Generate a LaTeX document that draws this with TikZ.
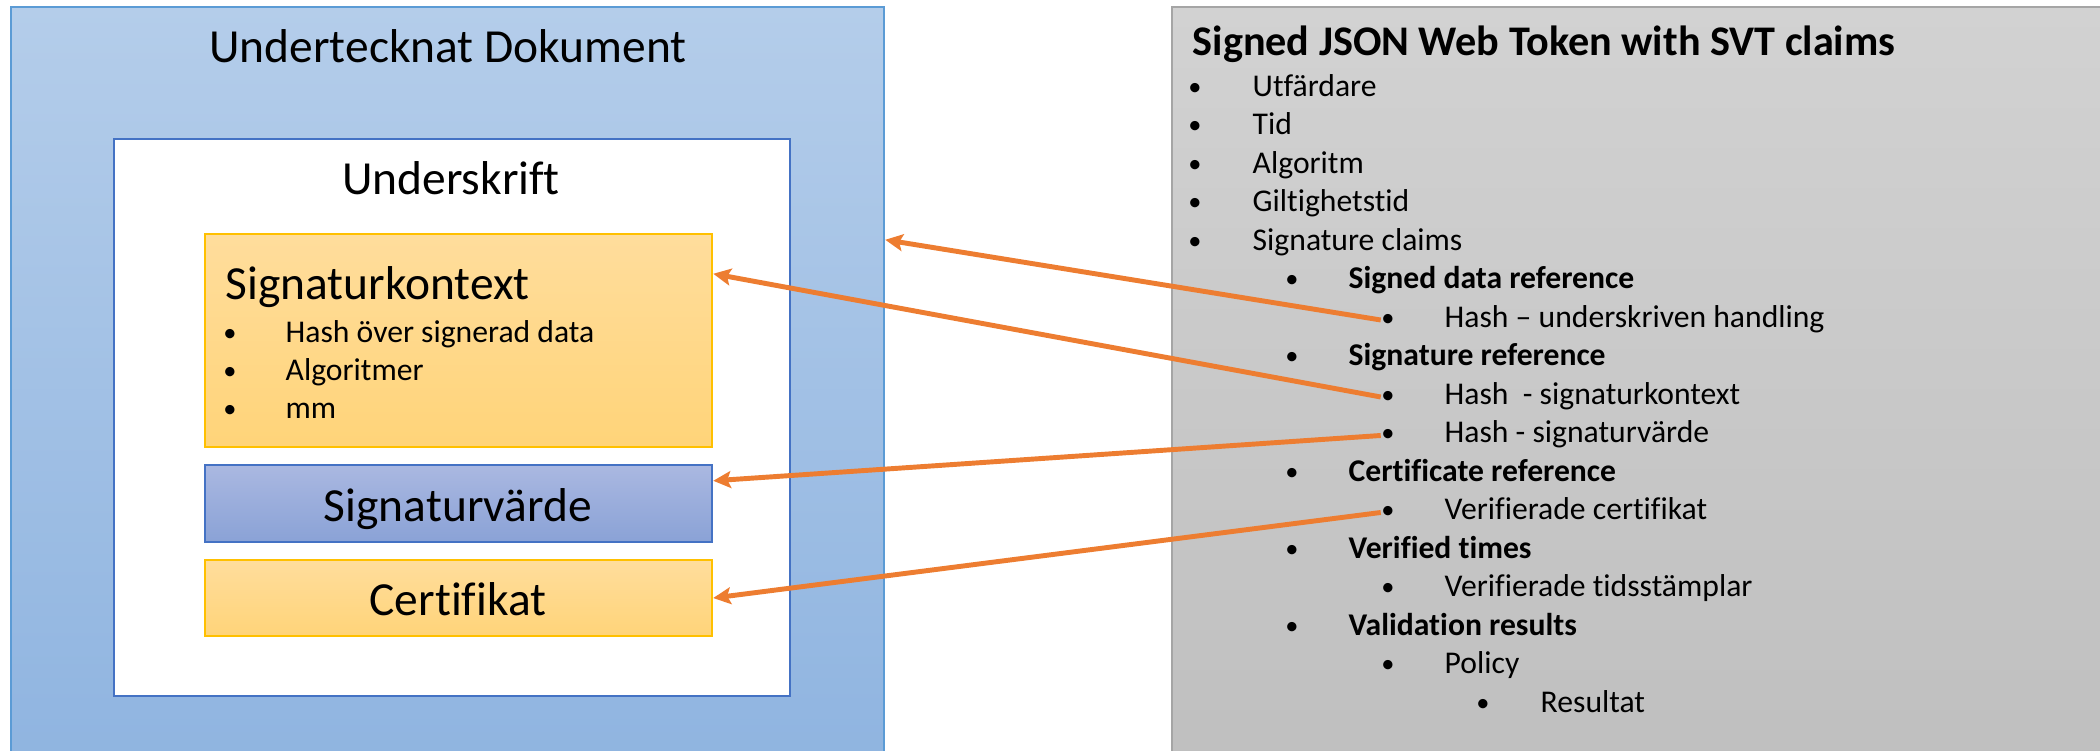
\documentclass[tikz,border=0pt]{standalone}
\usepackage{fontspec}
\setmainfont{Carlito}[Ligatures=NoCommon]
\usetikzlibrary{arrows.meta,calc,fit}
\definecolor{docTop}{HTML}{B4CDEA}
\definecolor{docBottom}{HTML}{8FB4E0}
\definecolor{docFrame}{HTML}{5B9BD5}
\definecolor{sigFrame}{HTML}{4472C4}
\definecolor{goldTop}{HTML}{FFDD9C}
\definecolor{goldBottom}{HTML}{FFD479}
\definecolor{goldFrame}{HTML}{FFC000}
\definecolor{valueTop}{HTML}{AAB8E1}
\definecolor{valueBottom}{HTML}{8AA2D6}
\definecolor{jwtTop}{HTML}{D2D2D2}
\definecolor{jwtBottom}{HTML}{BFBFBF}
\definecolor{jwtFrame}{HTML}{A5A5A5}
\definecolor{refOrange}{HTML}{ED7D31}
\begin{document}
\begin{tikzpicture}
% Signed document next to its JWT with SVT claims
\def\px{0.01cm}
\tikzset{
  panel/.style={inner sep=0pt, line width=0.7pt},
  bigtext/.style={font=\fontsize{13.5}{16}\selectfont, inner sep=0pt},
  itemtext/.style={font=\fontsize{9}{11}\selectfont, inner sep=0pt, anchor=base west},
  itemdot/.style={font=\fontsize{7.5}{9}\selectfont, inner sep=0pt, anchor=base},
  reflink/.style={draw=refOrange, line width=1.4pt, -{Stealth[length=5pt,width=4.8pt,inset=1pt]}}
}
\begin{scope}[x=\px, y=-\px]
  \useasboundingbox (0,0) rectangle (2100,750);
  % Left side: the signed document
  \node[panel, draw=docFrame, top color=docTop, bottom color=docBottom, fit={(11,7) (884,770)}] (doc) {};
  \node[bigtext, anchor=base] (doctitle) at (448,62) {Undertecknat Dokument};
  \node[panel, draw=sigFrame, fill=white, fit={(114,139) (790,696)}] (sig) {};
  \node[bigtext, anchor=base] (sigtitle) at (451,194) {Underskrift};
  % Signature context
  \node[panel, draw=goldFrame, top color=goldTop, bottom color=goldBottom, fit={(205,234) (712,447)}] (kontext) {};
  \node[bigtext, anchor=base west] (kontexttitle) at (225,299) {Signaturkontext};
  \node[itemdot] (kdot1) at (230,341) {•};
  \node[itemtext] (ktext1) at (285,342) {Hash över signerad data};
  \node[itemdot] (kdot2) at (230,379) {•};
  \node[itemtext] (ktext2) at (285,380) {Algoritmer};
  \node[itemdot] (kdot3) at (230,417) {•};
  \node[itemtext] (ktext3) at (285,418) {mm};
  % Signature value
  \node[panel, draw=sigFrame, top color=valueTop, bottom color=valueBottom, fit={(205,465) (712,542)}] (varde) {};
  \node[bigtext, anchor=base] (vardetitle) at (458,521) {Signaturvärde};
  % Certificate
  \node[panel, draw=goldFrame, top color=goldTop, bottom color=goldBottom, fit={(205,560) (712,636)}] (cert) {};
  \node[bigtext, anchor=base] (certtitle) at (458,615) {Certifikat};
  % Right side: the token
  \node[panel, draw=jwtFrame, top color=jwtTop, bottom color=jwtBottom, fit={(1172,7) (2120,770)}] (jwt) {};
  \node[inner sep=0pt, anchor=base west, font=\fontsize{12}{14}\selectfont\bfseries] (jwttitle) at (1192,55) {Signed JSON Web Token with SVT claims};
  \node[itemdot] (jdot1) at (1195,95) {•};
  \node[itemtext] (jtext1) at (1252,96) {Utfärdare};
  \node[itemdot] (jdot2) at (1195,133.5) {•};
  \node[itemtext] (jtext2) at (1252,134.5) {Tid};
  \node[itemdot] (jdot3) at (1195,172) {•};
  \node[itemtext] (jtext3) at (1252,173) {Algoritm};
  \node[itemdot] (jdot4) at (1195,210.5) {•};
  \node[itemtext] (jtext4) at (1252,211.5) {Giltighetstid};
  \node[itemdot] (jdot5) at (1195,249) {•};
  \node[itemtext] (jtext5) at (1252,250) {Signature claims};
  \node[itemdot] (jdot6) at (1292,287.5) {•};
  \node[itemtext] (jtext6) at (1348,288.5) {\bfseries Signed data reference};
  \node[itemdot] (jdot7) at (1388,326) {•};
  \node[itemtext] (jtext7) at (1444,327) {Hash – underskriven handling};
  \node[itemdot] (jdot8) at (1292,364.5) {•};
  \node[itemtext] (jtext8) at (1348,365.5) {\bfseries Signature reference};
  \node[itemdot] (jdot9) at (1388,403) {•};
  \node[itemtext] (jtext9) at (1444,404) {Hash\ \ - signaturkontext};
  \node[itemdot] (jdot10) at (1388,441.5) {•};
  \node[itemtext] (jtext10) at (1444,442.5) {Hash - signaturvärde};
  \node[itemdot] (jdot11) at (1292,480) {•};
  \node[itemtext] (jtext11) at (1348,481) {\bfseries Certificate reference};
  \node[itemdot] (jdot12) at (1388,518.5) {•};
  \node[itemtext] (jtext12) at (1444,519.5) {Verifierade certifikat};
  \node[itemdot] (jdot13) at (1292,557) {•};
  \node[itemtext] (jtext13) at (1348,558) {\bfseries Verified times};
  \node[itemdot] (jdot14) at (1388,595.5) {•};
  \node[itemtext] (jtext14) at (1444,596.5) {Verifierade tidsstämplar};
  \node[itemdot] (jdot15) at (1292,634) {•};
  \node[itemtext] (jtext15) at (1348,635) {\bfseries Validation results};
  \node[itemdot] (jdot16) at (1388,672.5) {•};
  \node[itemtext] (jtext16) at (1444,673.5) {Policy};
  \node[itemdot] (jdot17) at (1483,711) {•};
  \node[itemtext] (jtext17) at (1540,712) {Resultat};
  % References from the token back to the document
  \draw[reflink] (jdot7.west) -- ($(doc.north east)+(0,234)$);
  \draw[reflink] (jdot9.west) -- ($(kontext.north east)+(0,41)$);
  \draw[reflink] (jdot10.west) -- ($(varde.north east)+(0,17)$);
  \draw[reflink] (jdot12.west) -- (cert.east);
\end{scope}
\end{tikzpicture}
\end{document}
